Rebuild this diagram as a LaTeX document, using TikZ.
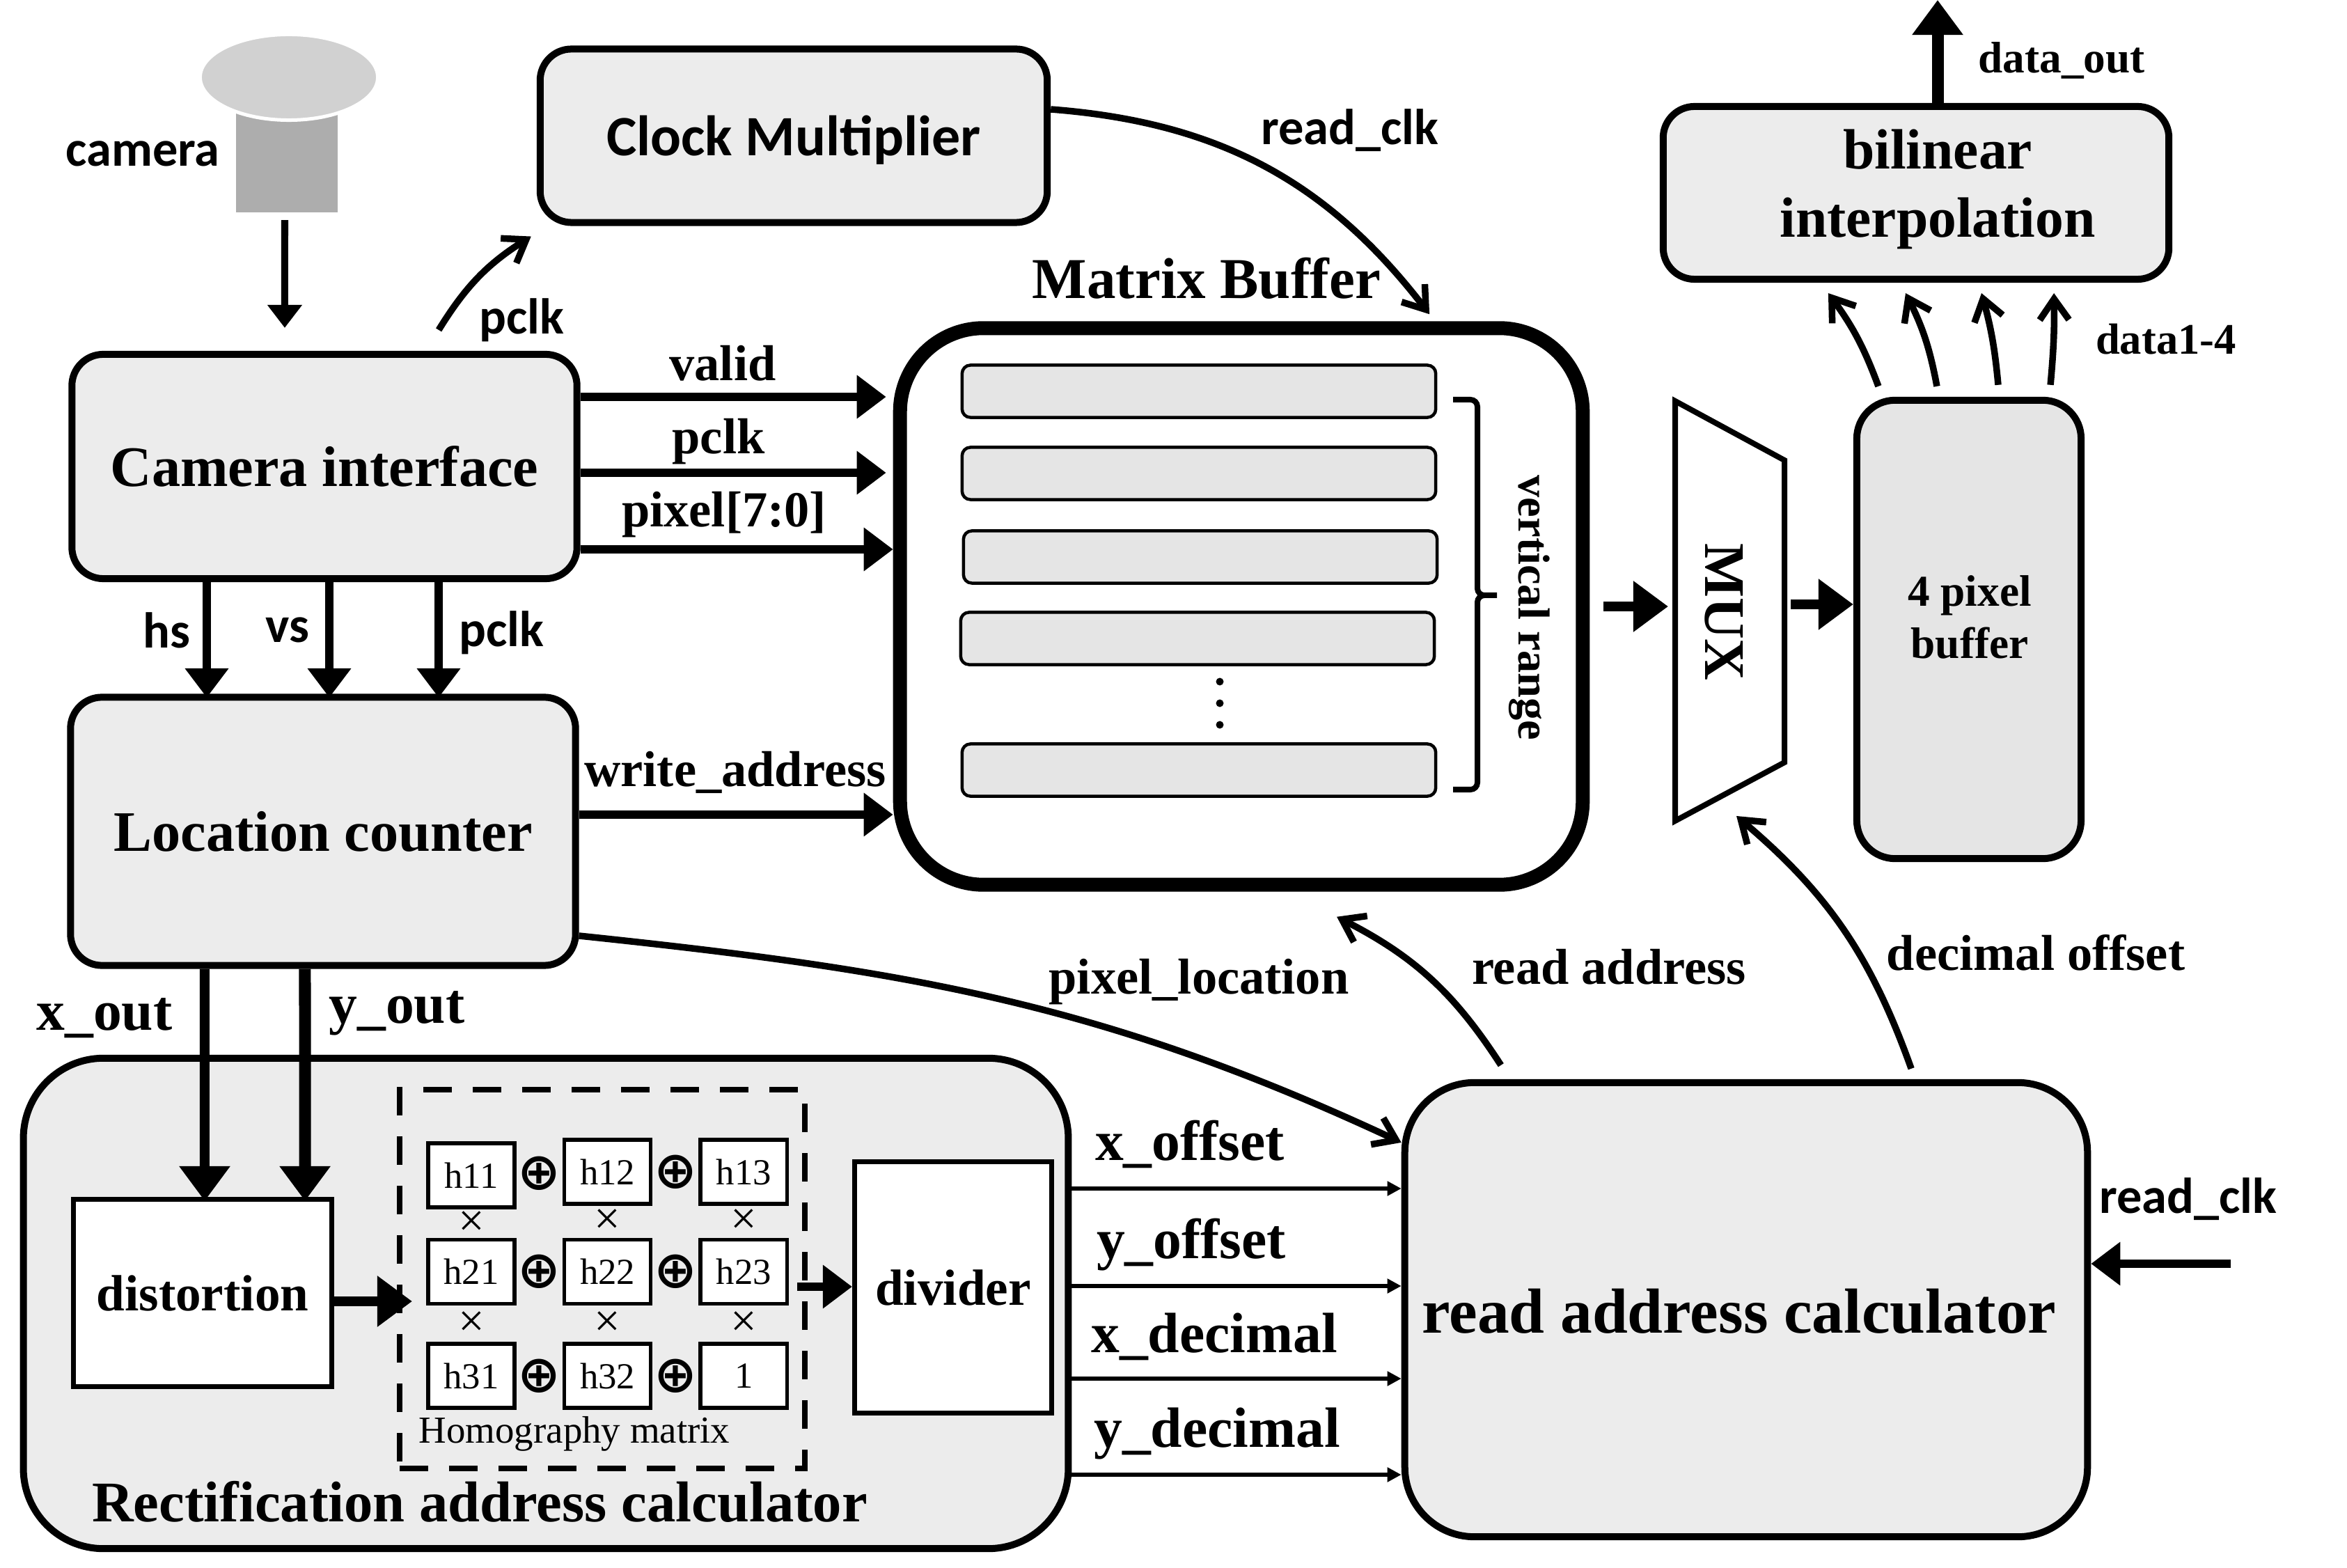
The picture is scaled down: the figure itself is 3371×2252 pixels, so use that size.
\documentclass[tikz,border=0pt]{standalone}
\usepackage{fontspec}
\setmainfont{Liberation Serif}
\newfontfamily\carlito{Carlito}
\newfontfamily\dejavu{DejaVu Sans}
\usetikzlibrary{arrows.meta,positioning,calc,shapes.geometric}

\begin{document}
\begin{tikzpicture}[
  x=0.01cm, y=-0.01cm,
  blk/.style={draw, line width=1mm, fill=black!7.5, rounded corners=0.45cm, align=center,
              font=\bfseries\fontsize{23.4}{28}\selectfont},
  wbox/.style={draw, line width=0.7mm, fill=white, align=center,
               font=\bfseries\fontsize{20.8}{25}\selectfont},
  hbox/.style={draw, line width=0.55mm, fill=white, minimum width=1.24cm, minimum height=0.92cm,
               inner sep=0pt, font=\fontsize{15}{18}\selectfont},
  row/.style={draw, line width=0.45mm, fill=black!10, rounded corners=0.12cm,
              minimum width=6.8cm, minimum height=0.75cm},
  dotmark/.style={circle, fill, inner sep=0pt, minimum size=0.11cm},
  lbl/.style={font=\bfseries\fontsize{20.6}{24}\selectfont},
  lblbig/.style={font=\bfseries\fontsize{23.2}{27}\selectfont},
  lblsans/.style={font=\carlito\bfseries\fontsize{20.6}{24}\selectfont},
  opl/.style={inner sep=0pt, font=\dejavu\bfseries\fontsize{21}{21}\selectfont},
  tim/.style={inner sep=0pt, font=\fontsize{19}{19}\selectfont},
  arrbig/.style={-{Triangle[length=0.5cm,width=0.7cm]}, line width=1.4mm},
  arrmid/.style={-{Triangle[length=0.42cm,width=0.6cm]}, line width=1.25mm},
  arrthin/.style={-{Triangle[length=0.2cm,width=0.2cm]}, line width=0.55mm},
  curv/.style={-{Straight Barb[length=0.3cm,width=0.42cm]}, line width=0.95mm},
  node distance=0.41cm and 0.66cm
]
  \useasboundingbox (0,0) rectangle (3371,2252);

  % Camera
  \node[draw=none, fill=black!32, minimum width=1.46cm, minimum height=1.45cm, inner sep=0pt] (cambody) at (412,232) {};
  \node[ellipse, draw=white, line width=0.5mm, fill=black!18, minimum width=2.55cm, minimum height=1.23cm, inner sep=0pt] (camhead) at (415,111) {};
  \node[lblsans] (camlbl) at (205,221) {camera};

  % Blocks
  \node[blk, minimum width=7.28cm, minimum height=2.49cm, text depth=0pt, font=\carlito\bfseries\fontsize{23.3}{27}\selectfont] (clk) at (1140,195) {Clock Multiplier};
  \node[blk, minimum width=7.25cm, minimum height=3.22cm] (camif) at (466,670) {Camera interface};
  \node[blk, minimum width=7.25cm, minimum height=3.85cm] (loc) at (464,1194) {Location counter};
  \node[blk, minimum width=7.26cm, minimum height=2.48cm] (bili) at (2752,277) {};
  \node[lbl, font=\bfseries\fontsize{23.2}{28}\selectfont, align=center] (bilitxt) at (2783,272) {bilinear\\interpolation};
  \node[blk, fill=black!10, minimum width=3.22cm, minimum height=6.58cm, rounded corners=0.55cm] (pixbuf) at (2828,904) {};
  \node[font=\bfseries\fontsize{18}{21.3}\selectfont, align=center] (pixtxt) at (2829,886) {4 pixel\\buffer};
  \node[blk, minimum width=9.8cm, minimum height=6.52cm, rounded corners=1.0cm] (rac) at (2508,1881) {};
  \node[font=\bfseries\fontsize{26}{30}\selectfont] (ractxt) at (2498,1883) {read address calculator};

  % Matrix buffer
  \node[draw, line width=2mm, fill=white, rounded corners=1.2cm, minimum width=9.8cm, minimum height=7.99cm] (mb) at (1783,871) {};
  \node[font=\bfseries\fontsize{23.6}{28}\selectfont] (mblbl) at (1733,400) {Matrix Buffer};
  \node[row] (r1) at (1722,562) {};
  \node[row] (r2) at (1722,680) {};
  \node[row] (r3) at (1724,800) {};
  \node[row] (r4) at (1720,917) {};
  \node[row] (r5) at (1722,1106) {};
  \node[dotmark] (d1) at (1752,979) {};
  \node[dotmark] (d2) at (1752,1010) {};
  \node[dotmark] (d3) at (1752,1041) {};
  \draw[line width=0.8mm, rounded corners=0.1cm] (2087,574) -- (2122,574) -- (2122,855) -- (2156,855) -- (2122,855) -- (2122,1134) -- (2087,1134);
  \node[rotate=-90, font=\bfseries\fontsize{18.3}{21}\selectfont] (vrange) at (2197,873) {vertical range};

  % MUX
  \draw[line width=0.8mm, fill=white] (2406,576) -- (2563,661) -- (2563,1095) -- (2406,1179) -- cycle;
  \node[rotate=-90, font=\bfseries\fontsize{23.5}{28}\selectfont] (mux) at (2476,879) {MUX};
  \coordinate (muxin) at (2396,871);
  \coordinate (muxout) at (2572,868);

  % Rectification address calculator
  \node[blk, minimum width=15cm, minimum height=7.04cm, rounded corners=1.15cm] (rect) at (784,1872) {};
  \node[font=\bfseries\fontsize{23.5}{27}\selectfont] (recttxt) at (689,2157) {Rectification address calculator};
  \node[wbox, minimum width=3.71cm, minimum height=2.69cm] (dist) at (291,1857) {distortion};
  \node[wbox, minimum width=2.83cm, minimum height=3.61cm] (div) at (1369,1849) {divider};
  \node[draw, line width=0.8mm, dash pattern=on 0.41cm off 0.3cm, minimum width=5.82cm, minimum height=5.44cm] (hom) at (865,1837) {};

  \node[hbox] (h11) at (677,1688) {h11};
  \node[hbox, right=of h11, yshift=0.05cm] (h12) {h12};
  \node[hbox, right=of h12] (h13) {h13};
  \node[hbox, below=of h11] (h21) {h21};
  \node[hbox, right=of h21] (h22) {h22};
  \node[hbox, right=of h22] (h23) {h23};
  \node[hbox, below=0.52cm of h21] (h31) {h31};
  \node[hbox, right=of h31] (h32) {h32};
  \node[hbox, right=of h32] (h33) {1};

  \node[opl] (p11) at ($(h11)!.5!(h12)$) {⊕};
  \node[opl] (p12) at ($(h12)!.5!(h13)$) {⊕};
  \node[opl] (p21) at ($(h21)!.5!(h22)$) {⊕};
  \node[opl] (p22) at ($(h22)!.5!(h23)$) {⊕};
  \node[opl] (p31) at ($(h31)!.5!(h32)$) {⊕};
  \node[opl] (p32) at ($(h32)!.5!(h33)$) {⊕};
  \node[tim] (t11) at ($(h11)!.5!(h21)$) {×};
  \node[tim] (t12) at ($(h12)!.5!(h22)$) {×};
  \node[tim] (t13) at ($(h13)!.5!(h23)$) {×};
  \node[tim] (t21) at ($(h21)!.5!(h31)$) {×};
  \node[tim] (t22) at ($(h22)!.5!(h32)$) {×};
  \node[tim] (t23) at ($(h23)!.5!(h33)$) {×};
  \node[font=\fontsize{15.6}{18}\selectfont] (homlbl) at (825,2059) {Homography matrix};

  % Labels
  \node[lblsans] (pclka) at (749,460) {pclk};
  \node[lbl] (valid) at (1038,522) {valid};
  \node[lbl] (pclkb) at (1032,634) {pclk};
  \node[lbl] (pixel) at (1040,739) {pixel[7:0]};
  \node[lbl] (waddr) at (1056,1109) {write\_address};
  \node[lblsans] (hs) at (239,905) {hs};
  \node[lblsans] (vs) at (413,905) {vs};
  \node[lblsans] (pclkc) at (720,909) {pclk};
  \node[lblbig] (xout) at (150,1462) {x\_out};
  \node[lblbig] (yout) at (570,1455) {y\_out};
  \node[lblbig] (xoff) at (1709,1643) {x\_offset};
  \node[lblbig] (yoff) at (1711,1788) {y\_offset};
  \node[lblbig] (xdec) at (1744,1920) {x\_decimal};
  \node[lblbig] (ydec) at (1748,2059) {y\_decimal};
  \node[lbl] (ploc) at (1722,1410) {pixel\_location};
  \node[lbl] (raddr) at (2311,1389) {read address};
  \node[lbl] (doff) at (2924,1368) {decimal offset};
  \node[lblsans] (rclka) at (1939,187) {read\_clk};
  \node[lblsans] (rclkb) at (3143,1722) {read\_clk};
  \node[font=\bfseries\fontsize{18}{21}\selectfont] (dout) at (2961,87) {data\_out};
  \node[font=\bfseries\fontsize{17.8}{20}\selectfont] (data) at (3111,487) {data1-4};

  % Free ends
  \coordinate (outtop) at (2783,0);
  \coordinate (clkin) at (3204,1815);

  % Arrows
  \draw[-{Triangle[length=0.33cm,width=0.48cm]}, line width=1mm] ([xshift=-0.03cm,yshift=-0.11cm]cambody.south) -- ([xshift=-0.57cm,yshift=0.33cm]camif.north);
  \draw[curv] ([xshift=1.64cm,yshift=0.3cm]camif.north) to[bend left=13] ([xshift=-0.08cm,yshift=-0.15cm]clk.south west);
  \draw[curv] (clk.east |- 0,157) to[bend left=24] ([xshift=2.7cm,yshift=0.1cm]mb.north);
  \draw[arrmid, shorten >=0.1cm] (camif.east |- 0,570) -- (mb.west |- 0,570);
  \draw[arrmid, shorten >=0.1cm] (camif.east |- 0,679) -- (mb.west |- 0,679);
  \draw[arrmid] (camif.east |- 0,789) -- (mb.west |- 0,789);
  \draw[arrmid] (loc.east |- 0,1170) -- (mb.west |- 0,1170);
  \draw[arrmid] (297,836) -- (297,1002);
  \draw[arrmid] (473,836) -- (473,1002);
  \draw[arrmid] (630,836) -- (630,1002);
  \draw[arrbig] ([xshift=-1.7cm]loc.south) -- ([xshift=0.03cm,yshift=-0.06cm]dist.north);
  \draw[arrbig, line width=1.7mm] ([xshift=-0.26cm]loc.south) -- ([xshift=1.47cm,yshift=-0.06cm]dist.north);
  \draw[arrbig] (dist.east |- 0,1869) -- (592,1869);
  \draw[arrmid] (1145,1848) -- (div.west |- 0,1848);
  \draw[arrthin] (rect.east |- 0,1707) -- (rac.west |- 0,1707);
  \draw[arrthin] (rect.east |- 0,1847) -- (rac.west |- 0,1847);
  \draw[arrthin] (rect.east |- 0,1980) -- (rac.west |- 0,1980);
  \draw[arrthin] (rect.east |- 0,2118) -- (rac.west |- 0,2118);
  \draw[curv] (loc.east |- 0,1344) to[out=-6,in=155] ([yshift=2.4cm]rac.west);
  \draw[curv] ([xshift=-3.52cm,yshift=0.2cm]rac.north) to[bend right=15] ([xshift=1.37cm,yshift=-0.36cm]mb.south);
  \draw[curv] ([xshift=2.37cm,yshift=0.15cm]rac.north) to[bend right=15] ([xshift=0.98cm]muxin |- 0,1172);
  \draw[arrbig, shorten <=0.2cm] (mb.east |- muxin) -- (muxin);
  \draw[arrbig] (muxout) -- (pixbuf.west |- muxout);
  \draw[arrbig, line width=1.7mm] (bili.north -| outtop) -- (outtop);
  \draw[curv] ([xshift=-1.3cm,yshift=0.15cm]pixbuf.north) to[bend right=8] ([xshift=-1.26cm,yshift=-0.15cm]bili.south);
  \draw[curv] ([xshift=-0.46cm,yshift=0.15cm]pixbuf.north) to[bend right=8] ([xshift=-0.15cm,yshift=-0.15cm]bili.south);
  \draw[curv] ([xshift=0.42cm,yshift=0.17cm]pixbuf.north) to[bend right=5] ([xshift=0.94cm,yshift=-0.15cm]bili.south);
  \draw[curv] ([xshift=1.17cm,yshift=0.17cm]pixbuf.north) to[bend right=3] ([xshift=1.98cm,yshift=-0.15cm]bili.south);
  \draw[arrmid] (clkin) -- (rac.east |- clkin);
\end{tikzpicture}
\end{document}
